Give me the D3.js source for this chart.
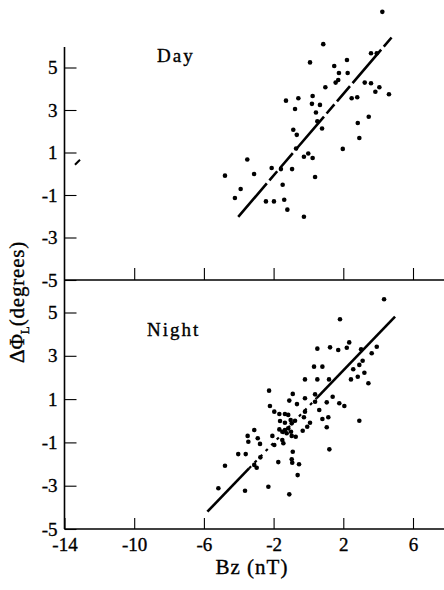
<!DOCTYPE html>
<html>
<head>
<meta charset="utf-8">
<script src="https://cdn.jsdelivr.net/npm/d3@7"></script>
<style>
  body { margin: 0; background: #fff; }
  svg { display: block; }
  text { stroke: #000; stroke-width: 0.35px; }
</style>
</head>
<body>
<div id="graph"></div>
<script>
const w = 444;
const h = 590;

// Bz (nT), delta phi (degrees)
const dayPoints = [
  [-4.79, -0.09], [-4.22, -1.14], [-3.89, -0.72], [-3.51, 0.67], [-3.12, -0.01],
  [-2.44, -1.3], [-2.11, 0.27], [-1.98, -1.3], [-1.58, 0.22], [-1.48, -0.52],
  [-1.39, -1.22], [-1.21, -1.69], [-1.29, 3.44], [-0.94, 0.22], [-0.77, 3.05],
  [-0.87, 2.07], [-0.67, 1.83], [-0.58, 3.55], [-0.71, 1.19], [-0.26, -2.02],
  [-0.26, 0.8], [-0.01, 0.95], [0.24, 0.74], [0.09, 5.24], [0.24, 3.66],
  [0.2, 3.29], [0.38, -0.15], [0.43, 2.88], [0.51, 2.47], [0.66, 3.24],
  [0.78, 2.13], [0.85, 6.1], [0.97, 4.07], [1.48, 5.07], [1.56, 4.29],
  [1.71, 4.41], [1.75, 4.74], [1.97, 1.17], [2.21, 5.35], [2.25, 4.74],
  [2.48, 3.55], [2.8, 3.6], [2.83, 2.39], [2.92, 1.68], [3.23, 4.29],
  [3.46, 2.68], [3.59, 4.26], [3.59, 5.67], [3.92, 5.67], [3.84, 3.86],
  [4.07, 4.07], [4.62, 3.74], [4.24, 7.62]
];

const nightPoints = [
  [4.34, 5.61], [1.81, 4.69], [2.34, 3.62], [0.51, 3.33], [1.24, 3.39],
  [1.71, 3.27], [2.2, 3.37], [3.02, 3.3], [3.92, 3.42], [3.63, 3.12],
  [3.11, 2.77], [2.92, 2.58], [2.57, 2.38], [3.21, 2.22], [2.83, 2.03],
  [2.44, 1.91], [3.44, 1.73], [0.32, 2.5], [0.8, 2.5], [-0.2, 1.91],
  [0.51, 1.91], [1.18, 1.91], [0.38, 1.22], [-0.2, 1.04], [0.38, 0.88],
  [1.05, 0.85], [1.39, 1.11], [1.77, 0.81], [2.06, 0.68], [0.62, 0.5],
  [-0.2, 0.42], [-0.26, 0.16], [0.8, 0.08], [1.14, 0.16], [-0.07, -0.28],
  [-0.33, -0.46], [1.05, -0.3], [2.92, 0.0], [1.2, -1.32], [-2.26, 1.39],
  [-0.9, 1.24], [-1.1, 0.93], [-2.21, 0.68], [-1.96, 0.42], [-1.67, 0.31],
  [-1.35, 0.31], [-1.16, 0.27], [-0.66, 0.77], [-1.63, -0.01], [-1.35, -0.09],
  [-0.96, -0.12], [-1.02, 0.03], [-0.77, 0.0], [0.09, -0.09], [-1.67, -0.4],
  [-1.5, -0.51], [-1.35, -0.43], [-1.16, -0.35], [-1.25, -0.58], [-1.0, -0.51],
  [-0.96, -0.7], [-0.73, -0.74], [-3.11, -0.43], [-3.49, -0.7], [-3.45, -0.97],
  [-2.91, -0.81], [-2.78, -1.07], [-2.07, -0.7], [-1.96, -1.12], [-1.5, -0.89],
  [-1.44, -1.04], [-4.03, -1.54], [-3.6, -1.54], [-2.76, -1.69], [-0.9, -1.43],
  [-1.73, -1.91], [-3.11, -2.04], [-2.97, -2.17], [-0.96, -1.78], [-0.93, -1.94],
  [-0.54, -2.01], [-4.79, -2.08], [-0.62, -2.51], [-5.17, -3.12], [-3.64, -3.23],
  [-2.3, -3.05], [-1.1, -3.4]
];

// fitted lines, end points
const dayFit = [[-4.03, -2.03], [4.84, 6.48]];
const nightFit = [[-5.8, -4.2], [4.97, 4.81]];
const nightDotted = [-3.41, 0.47]; // part of night line drawn dotted
const dayMark = [[-13.4, 0.42], [-13.11, 0.66]]; // small stray mark at the left

const xTicks = [-14, -10, -6, -2, 2, 6];
const yTicks = [5, 3, 1, -1, -3, -5];

const font = "'Liberation Serif', 'Times New Roman', serif";

let x = d3.scaleLinear().domain([-14, 6]).range([64.5, 413]);
let yDay = d3.scaleLinear().domain([-5, 5]).range([280, 67.5]);
let yNight = d3.scaleLinear().domain([-5, 5]).range([529, 312.5]);
let fmt = d => String(d); // plain hyphen minus like the original

let svg = d3
  .select("#graph")
  .append("svg")
  .attr("width", w)
  .attr("height", h)
  .style("font-family", font);

// y axis line (both panels)
svg
  .append("line")
  .attr("x1", x(-14))
  .attr("x2", x(-14))
  .attr("y1", 47)
  .attr("y2", yNight(-5))
  .attr("stroke", "#000")
  .attr("stroke-width", 1.6);

// horizontal axis lines
[yDay(-5), yNight(-5)].forEach(yy => {
  svg
    .append("line")
    .attr("x1", x(-14))
    .attr("x2", w)
    .attr("y1", yy)
    .attr("y2", yy)
    .attr("stroke", "#000")
    .attr("stroke-width", 1.4);
});

let styleAxis = g => {
  g.select(".domain").remove();
  g.attr("font-family", font).attr("font-size", 19);
  g.selectAll(".tick line").attr("stroke", "#000").attr("stroke-width", 1.1);
  g.selectAll(".tick text").attr("fill", "#000");
};

// y axes
svg
  .append("g")
  .attr("transform", `translate(${x(-14)},0)`)
  .call(d3.axisLeft(yDay).tickValues(yTicks).tickSize(-12).tickPadding(7).tickFormat(fmt))
  .call(styleAxis);

svg
  .append("g")
  .attr("transform", `translate(${x(-14)},0)`)
  .call(d3.axisLeft(yNight).tickValues(yTicks).tickSize(-12).tickPadding(7).tickFormat(fmt))
  .call(styleAxis);

// x axes
svg
  .append("g")
  .attr("transform", `translate(0,${yDay(-5)})`)
  .call(d3.axisBottom(x).tickValues(xTicks.slice(1)).tickSize(-12).tickFormat(""))
  .call(styleAxis);

svg
  .append("g")
  .attr("transform", `translate(0,${yNight(-5)})`)
  .call(d3.axisBottom(x).tickValues(xTicks).tickSize(-11).tickPadding(9).tickFormat(fmt))
  .call(styleAxis);

// fitted lines
svg
  .append("line")
  .attr("x1", x(dayFit[0][0]))
  .attr("y1", yDay(dayFit[0][1]))
  .attr("x2", x(dayFit[1][0]))
  .attr("y2", yDay(dayFit[1][1]))
  .attr("stroke", "#000")
  .attr("stroke-width", 2.6)
  .attr("stroke-dasharray", "44,4,12,4,20,4");

let nightY = bz =>
  nightFit[0][1] +
  ((bz - nightFit[0][0]) * (nightFit[1][1] - nightFit[0][1])) /
    (nightFit[1][0] - nightFit[0][0]);

let nightParts = [
  [nightFit[0][0], nightDotted[0], null],
  [nightDotted[0], nightDotted[1], "3,5"],
  [nightDotted[1], nightFit[1][0], null]
];
svg
  .selectAll(".nightfit")
  .data(nightParts)
  .enter()
  .append("line")
  .attr("class", "nightfit")
  .attr("x1", d => x(d[0]))
  .attr("y1", d => yNight(nightY(d[0])))
  .attr("x2", d => x(d[1]))
  .attr("y2", d => yNight(nightY(d[1])))
  .attr("stroke", "#000")
  .attr("stroke-width", d => (d[2] ? 2.2 : 2.6))
  .attr("stroke-dasharray", d => d[2]);

svg
  .append("line")
  .attr("x1", x(dayMark[0][0]))
  .attr("y1", yDay(dayMark[0][1]))
  .attr("x2", x(dayMark[1][0]))
  .attr("y2", yDay(dayMark[1][1]))
  .attr("stroke", "#000")
  .attr("stroke-width", 2);

// points
svg
  .selectAll(".day")
  .data(dayPoints)
  .enter()
  .append("circle")
  .attr("class", "day")
  .attr("cx", d => x(d[0]))
  .attr("cy", d => yDay(d[1]))
  .attr("r", 2.3)
  .attr("fill", "#000");

svg
  .selectAll(".night")
  .data(nightPoints)
  .enter()
  .append("circle")
  .attr("class", "night")
  .attr("cx", d => x(d[0]))
  .attr("cy", d => yNight(d[1]))
  .attr("r", 2.3)
  .attr("fill", "#000");

// panel labels
svg
  .append("text")
  .text("Day")
  .attr("x", 157)
  .attr("y", 62)
  .attr("font-size", 19)
  .attr("letter-spacing", 2);

svg
  .append("text")
  .text("Night")
  .attr("x", 147)
  .attr("y", 336)
  .attr("font-size", 19)
  .attr("letter-spacing", 2);

// axis titles
svg
  .append("text")
  .text("Bz (nT)")
  .attr("x", 252)
  .attr("y", 574)
  .attr("text-anchor", "middle")
  .attr("font-size", 21)
  .attr("letter-spacing", 1);

let yt = svg
  .append("text")
  .attr("transform", "translate(24,302) rotate(-90)")
  .attr("text-anchor", "middle")
  .attr("font-size", 21);
yt.append("tspan").text("\u0394\u03A6");
yt.append("tspan").text("L").attr("font-size", 13).attr("dy", 5);
yt.append("tspan").text("(degrees)").attr("dy", -5).attr("letter-spacing", 0.8);
</script>
</body>
</html>
